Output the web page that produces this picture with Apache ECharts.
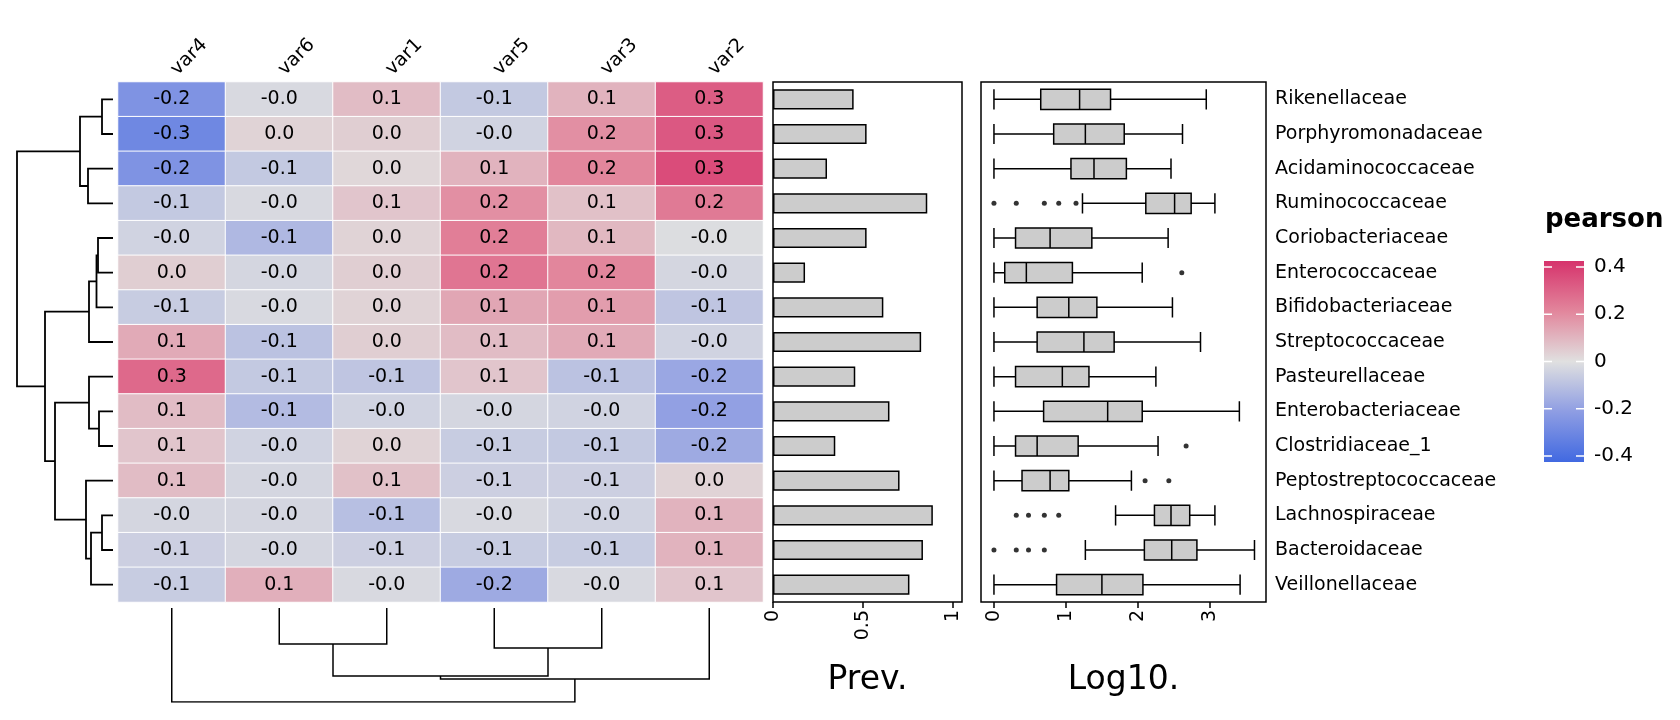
<!DOCTYPE html>
<html><head><meta charset="utf-8">
<script src="https://cdn.jsdelivr.net/npm/echarts@6/dist/echarts.min.js"></script>
<style>html,body{margin:0;padding:0;background:#fff}#c{width:1680px;height:720px}</style>
</head><body><div id="c"></div>
<script>
const rows = ['Rikenellaceae','Porphyromonadaceae','Acidaminococcaceae','Ruminococcaceae','Coriobacteriaceae','Enterococcaceae','Bifidobacteriaceae','Streptococcaceae','Pasteurellaceae','Enterobacteriaceae','Clostridiaceae_1','Peptostreptococcaceae','Lachnospiraceae','Bacteroidaceae','Veillonellaceae'];
const cols = ['var4','var6','var1','var5','var3','var2'];
const corr = [
 [-0.24,-0.02,0.08,-0.07,0.10,0.30],
 [-0.28,0.03,0.04,-0.04,0.18,0.31],
 [-0.24,-0.07,0.02,0.10,0.20,0.34],
 [-0.07,-0.02,0.06,0.18,0.07,0.23],
 [-0.04,-0.12,0.03,0.22,0.09,-0.01],
 [0.04,-0.03,0.04,0.24,0.20,-0.03],
 [-0.06,-0.02,0.03,0.13,0.15,-0.08],
 [0.12,-0.09,0.04,0.08,0.12,-0.04],
 [0.27,-0.07,-0.08,0.06,-0.09,-0.17],
 [0.08,-0.11,-0.04,-0.03,-0.04,-0.19],
 [0.06,-0.04,0.03,-0.06,-0.07,-0.16],
 [0.08,-0.03,0.07,-0.05,-0.05,0.03],
 [-0.03,-0.03,-0.10,-0.02,-0.04,0.10],
 [-0.05,-0.03,-0.05,-0.06,-0.06,0.10],
 [-0.06,0.11,-0.02,-0.16,-0.02,0.06]
];
const prev = [0.448,0.52,0.30,0.857,0.52,0.178,0.613,0.823,0.457,0.647,0.346,0.703,0.888,0.833,0.758];
// [min, q1, median, q3, max]
const boxStats = [
 [0,0.65,1.19,1.62,2.95],
 [0,0.83,1.27,1.81,2.62],
 [0,1.07,1.39,1.84,2.46],
 [1.23,2.11,2.51,2.74,3.07],
 [0,0.30,0.78,1.36,2.42],
 [0,0.15,0.45,1.09,2.06],
 [0,0.60,1.04,1.43,2.48],
 [0,0.60,1.25,1.67,2.87],
 [0,0.30,0.95,1.32,2.25],
 [0,0.69,1.58,2.06,3.41],
 [0,0.30,0.60,1.17,2.28],
 [0,0.39,0.78,1.04,1.91],
 [1.69,2.23,2.46,2.72,3.07],
 [1.27,2.09,2.47,2.82,3.62],
 [0,0.87,1.50,2.07,3.42]
];
// [rowIndex, value]
const outliers = [
 [3,0],[3,0.31],[3,0.70],[3,0.90],[3,1.14],
 [5,2.61],[10,2.67],[11,2.10],[11,2.43],
 [12,0.31],[12,0.48],[12,0.70],[12,0.90],
 [13,0],[13,0.31],[13,0.48],[13,0.70]
];
// hclust-style merges: negative = leaf index (1-based), positive = merge index (1-based); heights
const rowMerge = [[-1,-2],[-3,-4],[1,2],[-5,-6],[4,-7],[5,-8],[-10,-11],[-9,7],[-13,-14],[9,-15],[-12,10],[8,11],[6,12],[3,13]];
const rowHeight = [11,25,33,15,16.5,24,14,24,11,22,27,58,68,96];
const colMerge = [[-2,-3],[-4,-5],[1,2],[3,-6],[-1,4]];
const colHeight = [36,40,68,71,94];
const barTicks = [0,0.5,1];
const boxTicks = [0,1,2,3];
const legendTicks = [0.4,0.2,0,-0.2,-0.4];
const legendTickLabels = ['0.4','0.2','0','-0.2','-0.4'];

function dendro(merge, heights){
  const pos = [], hs = [], lines = [];
  const get = i => i < 0 ? [-i-1, 0] : [pos[i-1], hs[i-1]];
  merge.forEach((m, k) => {
    const a = get(m[0]), b = get(m[1]), h = heights[k];
    lines.push([[a[1],a[0]],[h,a[0]],[h,b[0]],[b[1],b[0]]]);
    pos.push((a[0]+b[0])/2); hs.push(h);
  });
  return lines;
}
const rowLines = dendro(rowMerge,rowHeight).map(l => ({coords: l}));
const colLines = dendro(colMerge,colHeight).map(l => ({coords: l.map(p => [p[1],p[0]])}));

const heatData = [];
corr.forEach((r,i) => r.forEach((v,j) => heatData.push([j,i,v])));

const F = 'DejaVu Sans';
const HX=118, HY=82, HW=645, HH=520;
const chart = echarts.init(document.getElementById('c'));
const LG = {x:1544, y:261, w:40, h:201, min:-0.4, max:0.4};
const cmap = ['#4169E1','#8E9DE3','#E0E0E0','#E2869C','#D6336C'];
const ly = v => LG.y + 6 + (LG.max - v)/(LG.max-LG.min)*(LG.h-12);
const graphics = [
 {type:'rect', shape:{x:LG.x,y:LG.y,width:LG.w,height:LG.h}, style:{fill:new echarts.graphic.LinearGradient(0,0,0,1,
   cmap.slice().reverse().map((c,i) => ({offset:i/(cmap.length-1), color:c})))}},
 {type:'text', left:1545, top:207, style:{text:'pearson', font:'bold 26px "DejaVu Sans"', fill:'#000'}}
];
legendTicks.forEach((v,i) => {
  const y = ly(v);
  graphics.push({type:'line', shape:{x1:LG.x,y1:y,x2:LG.x+8,y2:y}, style:{stroke:'#fff',lineWidth:1.5}});
  graphics.push({type:'line', shape:{x1:LG.x+LG.w-8,y1:y,x2:LG.x+LG.w,y2:y}, style:{stroke:'#fff',lineWidth:1.5}});
  graphics.push({type:'text', x:LG.x+LG.w+10, y:y, style:{text:legendTickLabels[i], font:'20px "DejaVu Sans"', fill:'#000', verticalAlign:'middle'}});
});

chart.setOption({
  animation:false,
  textStyle:{fontFamily:F},
  visualMap:{show:false, min:-0.4, max:0.4, seriesIndex:0, inRange:{color:cmap}},
  grid:[
    {left:HX, top:HY, width:HW, height:HH},
    {left:773, top:HY, width:189, height:HH, show:true, borderColor:'#000', borderWidth:1.5},
    {left:981, top:HY, width:285, height:HH, show:true, borderColor:'#000', borderWidth:1.5},
    {left:17, top:HY, width:96, height:HH},
    {left:HX, top:608, width:HW, height:94}
  ],
  xAxis:[
    {gridIndex:0, type:'category', data:cols, position:'top', axisLine:{show:false}, axisTick:{show:false}, axisLabel:{show:false}},
    {gridIndex:1, type:'value', min:0, max:1.05, splitLine:{show:false},
     axisLine:{show:false}, axisTick:{show:true, length:6, lineStyle:{color:'#000',width:1.5}, customValues:barTicks},
     axisLabel:{rotate:90, fontSize:19, color:'#000', customValues:barTicks, fontFamily:F},
     name:'Prev.', nameLocation:'middle', nameGap:62, nameTextStyle:{fontSize:33, color:'#000', fontFamily:F}},
    {gridIndex:2, type:'value', min:-0.18, max:3.78, splitLine:{show:false},
     axisLine:{show:false}, axisTick:{show:true, length:6, lineStyle:{color:'#000',width:1.5}, customValues:boxTicks},
     axisLabel:{rotate:90, fontSize:19, color:'#000', customValues:boxTicks, fontFamily:F},
     name:'Log10.', nameLocation:'middle', nameGap:62, nameTextStyle:{fontSize:33, color:'#000', fontFamily:F}},
    {gridIndex:3, type:'value', min:0, max:96, inverse:true, show:false},
    {gridIndex:4, type:'value', min:-0.5, max:5.5, show:false}
  ],
  yAxis:[
    {gridIndex:0, type:'category', data:rows, inverse:true, show:false},
    {gridIndex:1, type:'category', data:rows, inverse:true, show:false},
    {gridIndex:2, type:'category', data:rows, inverse:true, position:'right', axisLine:{show:false}, axisTick:{show:false},
     axisLabel:{fontSize:19, color:'#000', margin:9, fontFamily:F}},
    {gridIndex:3, type:'value', min:-0.5, max:14.5, inverse:true, show:false},
    {gridIndex:4, type:'value', min:0, max:94, inverse:true, show:false}
  ],
  series:[
    {type:'heatmap', xAxisIndex:0, yAxisIndex:0, data:heatData,
     itemStyle:{borderColor:'#fff', borderWidth:1},
     label:{show:true, fontSize:19, color:'#000', fontFamily:F, formatter:p => p.value[2].toFixed(1)}},
    {type:'bar', xAxisIndex:1, yAxisIndex:1, data:prev, barWidth:'58%',
     itemStyle:{color:'#cccccc', borderColor:'#000', borderWidth:1.5}},
    {type:'boxplot', xAxisIndex:2, yAxisIndex:2, data:boxStats, boxWidth:['58%','58%'],
     itemStyle:{color:'#cccccc', borderColor:'#000', borderWidth:1.5}},
    {type:'scatter', xAxisIndex:2, yAxisIndex:2, data:outliers.map(o => [o[1], o[0]]), symbolSize:5,
     itemStyle:{color:'#000'}},
    {type:'lines', coordinateSystem:'cartesian2d', xAxisIndex:3, yAxisIndex:3, polyline:true, data:rowLines,
     lineStyle:{color:'#000', width:1.8, opacity:1}},
    {type:'lines', coordinateSystem:'cartesian2d', xAxisIndex:4, yAxisIndex:4, polyline:true, data:colLines,
     lineStyle:{color:'#000', width:1.5, opacity:1}}
  ],
  graphic:graphics
});
// column labels rotated 45°, starting near column centre
const colLabelGraphics = cols.map((c, j) => {
  const px = chart.convertToPixel({xAxisIndex:0}, c);
  return {type:'text', x:px + 9, y:HY - 3, rotation:Math.PI/4, originX:0, originY:0,
    style:{text:c, font:'19px "DejaVu Sans"', fill:'#000', x:0, y:0, align:'left', verticalAlign:'bottom'}};
});
chart.setOption({graphic: graphics.concat(colLabelGraphics)});
</script></body></html>
